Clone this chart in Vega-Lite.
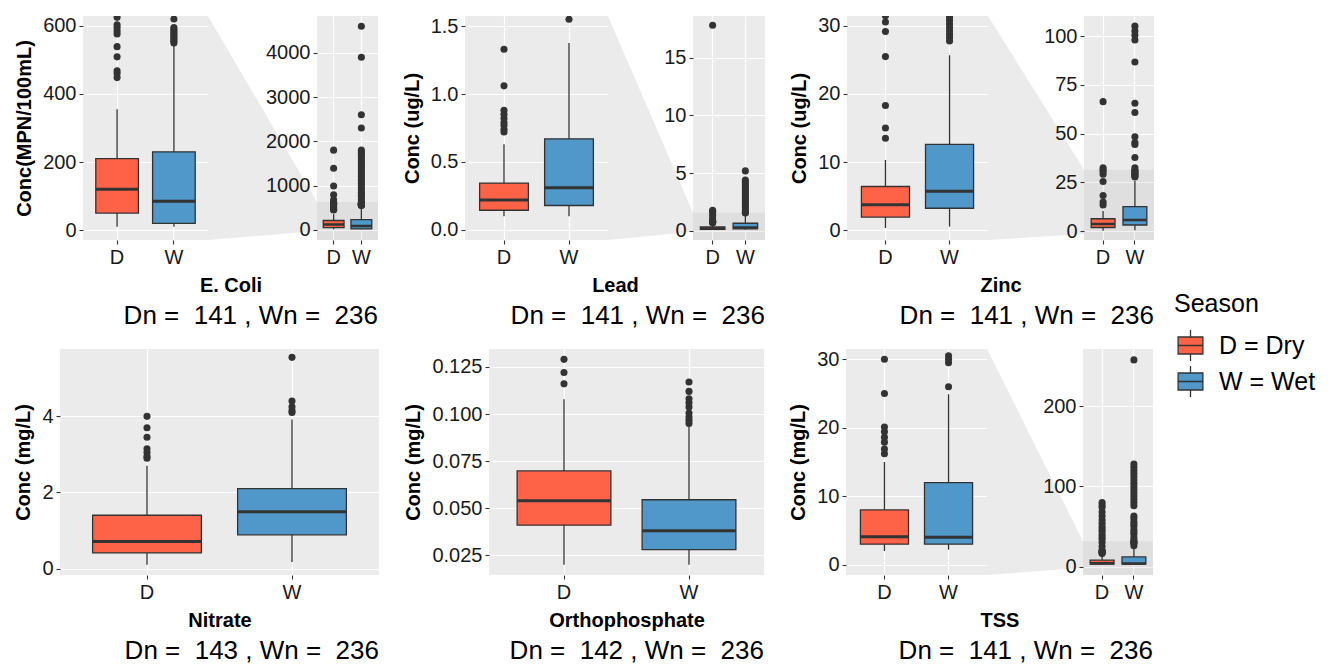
{
"$schema":"https://vega.github.io/schema/vega-lite/v6.json",
"padding":{"left":13,"top":15,"right":5,"bottom":0},
"datasets":{
"box":[
{"p":"ecoli","s":"D","lo":10,"q1":50,"med":120,"q3":210,"hi":355},
{"p":"ecoli","s":"W","lo":10,"q1":20,"med":85,"q3":230,"hi":545},
{"p":"lead","s":"D","lo":0.10,"q1":0.145,"med":0.22,"q3":0.345,"hi":0.63},
{"p":"lead","s":"W","lo":0.10,"q1":0.18,"med":0.31,"q3":0.67,"hi":1.375},
{"p":"zinc","s":"D","lo":0.3,"q1":1.9,"med":3.7,"q3":6.4,"hi":10.3},
{"p":"zinc","s":"W","lo":0.5,"q1":3.2,"med":5.7,"q3":12.6,"hi":25.7},
{"p":"nitrate","s":"D","lo":0.1,"q1":0.41,"med":0.71,"q3":1.40,"hi":2.70},
{"p":"nitrate","s":"W","lo":0.17,"q1":0.885,"med":1.49,"q3":2.10,"hi":3.92},
{"p":"ortho","s":"D","lo":0.020,"q1":0.041,"med":0.054,"q3":0.0698,"hi":0.1078},
{"p":"ortho","s":"W","lo":0.020,"q1":0.028,"med":0.038,"q3":0.0545,"hi":0.094},
{"p":"tss","s":"D","lo":2,"q1":3,"med":4.1,"q3":8,"hi":15},
{"p":"tss","s":"W","lo":2.2,"q1":3,"med":4,"q3":12,"hi":24.9}
],
"out":[
{"p":"ecoli","s":"D","v":448},{"p":"ecoli","s":"D","v":460},{"p":"ecoli","s":"D","v":468},{"p":"ecoli","s":"D","v":509},{"p":"ecoli","s":"D","v":539},{"p":"ecoli","s":"D","v":576},{"p":"ecoli","s":"D","v":585},{"p":"ecoli","s":"D","v":595},{"p":"ecoli","s":"D","v":603},{"p":"ecoli","s":"D","v":625},{"p":"ecoli","s":"D","v":680},{"p":"ecoli","s":"D","v":790},{"p":"ecoli","s":"D","v":990},{"p":"ecoli","s":"D","v":1390},{"p":"ecoli","s":"D","v":1800},
{"p":"ecoli","s":"W","v":550},{"p":"ecoli","s":"W","v":555},{"p":"ecoli","s":"W","v":560},{"p":"ecoli","s":"W","v":565},{"p":"ecoli","s":"W","v":570},{"p":"ecoli","s":"W","v":575},{"p":"ecoli","s":"W","v":580},{"p":"ecoli","s":"W","v":585},{"p":"ecoli","s":"W","v":590},{"p":"ecoli","s":"W","v":595},{"p":"ecoli","s":"W","v":620},{"p":"ecoli","s":"W","v":650},{"p":"ecoli","s":"W","v":700},{"p":"ecoli","s":"W","v":760},{"p":"ecoli","s":"W","v":800},{"p":"ecoli","s":"W","v":850},{"p":"ecoli","s":"W","v":900},{"p":"ecoli","s":"W","v":950},{"p":"ecoli","s":"W","v":1000},{"p":"ecoli","s":"W","v":1050},{"p":"ecoli","s":"W","v":1100},{"p":"ecoli","s":"W","v":1150},{"p":"ecoli","s":"W","v":1200},{"p":"ecoli","s":"W","v":1250},{"p":"ecoli","s":"W","v":1300},{"p":"ecoli","s":"W","v":1350},{"p":"ecoli","s":"W","v":1400},{"p":"ecoli","s":"W","v":1450},{"p":"ecoli","s":"W","v":1500},{"p":"ecoli","s":"W","v":1550},{"p":"ecoli","s":"W","v":1600},{"p":"ecoli","s":"W","v":1650},{"p":"ecoli","s":"W","v":1700},{"p":"ecoli","s":"W","v":1750},{"p":"ecoli","s":"W","v":1800},{"p":"ecoli","s":"W","v":2300},{"p":"ecoli","s":"W","v":2600},{"p":"ecoli","s":"W","v":3900},{"p":"ecoli","s":"W","v":4600},
{"p":"lead","s":"D","v":0.72},{"p":"lead","s":"D","v":0.74},{"p":"lead","s":"D","v":0.77},{"p":"lead","s":"D","v":0.79},{"p":"lead","s":"D","v":0.82},{"p":"lead","s":"D","v":0.85},{"p":"lead","s":"D","v":0.88},{"p":"lead","s":"D","v":1.06},{"p":"lead","s":"D","v":1.33},{"p":"lead","s":"D","v":1.6},{"p":"lead","s":"D","v":1.7},{"p":"lead","s":"D","v":1.8},{"p":"lead","s":"D","v":17.8},
{"p":"lead","s":"W","v":1.55},{"p":"lead","s":"W","v":1.6},{"p":"lead","s":"W","v":1.8},{"p":"lead","s":"W","v":2.0},{"p":"lead","s":"W","v":2.2},{"p":"lead","s":"W","v":2.4},{"p":"lead","s":"W","v":2.6},{"p":"lead","s":"W","v":2.8},{"p":"lead","s":"W","v":3.0},{"p":"lead","s":"W","v":3.2},{"p":"lead","s":"W","v":3.4},{"p":"lead","s":"W","v":3.6},{"p":"lead","s":"W","v":3.8},{"p":"lead","s":"W","v":4.0},{"p":"lead","s":"W","v":4.2},{"p":"lead","s":"W","v":4.4},{"p":"lead","s":"W","v":5.2},
{"p":"zinc","s":"D","v":13.5},{"p":"zinc","s":"D","v":15.0},{"p":"zinc","s":"D","v":18.3},{"p":"zinc","s":"D","v":25.5},{"p":"zinc","s":"D","v":29.2},{"p":"zinc","s":"D","v":30.6},{"p":"zinc","s":"D","v":31.5},{"p":"zinc","s":"D","v":32.5},{"p":"zinc","s":"D","v":66.4},
{"p":"zinc","s":"W","v":27.8},{"p":"zinc","s":"W","v":28.3},{"p":"zinc","s":"W","v":28.8},{"p":"zinc","s":"W","v":29.3},{"p":"zinc","s":"W","v":29.8},{"p":"zinc","s":"W","v":30.3},{"p":"zinc","s":"W","v":30.8},{"p":"zinc","s":"W","v":31.3},{"p":"zinc","s":"W","v":32.5},{"p":"zinc","s":"W","v":37.8},{"p":"zinc","s":"W","v":44.4},{"p":"zinc","s":"W","v":45.5},{"p":"zinc","s":"W","v":48.4},{"p":"zinc","s":"W","v":60.8},{"p":"zinc","s":"W","v":65.6},{"p":"zinc","s":"W","v":86.7},{"p":"zinc","s":"W","v":98.0},{"p":"zinc","s":"W","v":100.4},{"p":"zinc","s":"W","v":102.6},{"p":"zinc","s":"W","v":105.1},
{"p":"nitrate","s":"D","v":2.90},{"p":"nitrate","s":"D","v":2.95},{"p":"nitrate","s":"D","v":3.05},{"p":"nitrate","s":"D","v":3.15},{"p":"nitrate","s":"D","v":3.45},{"p":"nitrate","s":"D","v":3.70},{"p":"nitrate","s":"D","v":4.00},
{"p":"nitrate","s":"W","v":4.10},{"p":"nitrate","s":"W","v":4.15},{"p":"nitrate","s":"W","v":4.25},{"p":"nitrate","s":"W","v":4.40},{"p":"nitrate","s":"W","v":5.55},
{"p":"ortho","s":"D","v":0.116},{"p":"ortho","s":"D","v":0.122},{"p":"ortho","s":"D","v":0.129},
{"p":"ortho","s":"W","v":0.095},{"p":"ortho","s":"W","v":0.0966},{"p":"ortho","s":"W","v":0.0984},{"p":"ortho","s":"W","v":0.1005},{"p":"ortho","s":"W","v":0.1037},{"p":"ortho","s":"W","v":0.106},{"p":"ortho","s":"W","v":0.1081},{"p":"ortho","s":"W","v":0.112},{"p":"ortho","s":"W","v":0.117},
{"p":"tss","s":"D","v":16.2},{"p":"tss","s":"D","v":16.9},{"p":"tss","s":"D","v":17.9},{"p":"tss","s":"D","v":18.6},{"p":"tss","s":"D","v":19.4},{"p":"tss","s":"D","v":20.1},{"p":"tss","s":"D","v":25.0},{"p":"tss","s":"D","v":30.0},{"p":"tss","s":"D","v":34},{"p":"tss","s":"D","v":37},{"p":"tss","s":"D","v":40},{"p":"tss","s":"D","v":44},{"p":"tss","s":"D","v":47},{"p":"tss","s":"D","v":50},{"p":"tss","s":"D","v":54},{"p":"tss","s":"D","v":58},{"p":"tss","s":"D","v":63},{"p":"tss","s":"D","v":68},{"p":"tss","s":"D","v":74},{"p":"tss","s":"D","v":77},{"p":"tss","s":"D","v":80},
{"p":"tss","s":"W","v":26},{"p":"tss","s":"W","v":29.5},{"p":"tss","s":"W","v":30},{"p":"tss","s":"W","v":30.5},{"p":"tss","s":"W","v":33},{"p":"tss","s":"W","v":36},{"p":"tss","s":"W","v":40},{"p":"tss","s":"W","v":43},{"p":"tss","s":"W","v":46},{"p":"tss","s":"W","v":50},{"p":"tss","s":"W","v":53},{"p":"tss","s":"W","v":56},{"p":"tss","s":"W","v":60},{"p":"tss","s":"W","v":63},{"p":"tss","s":"W","v":76},{"p":"tss","s":"W","v":80},{"p":"tss","s":"W","v":84},{"p":"tss","s":"W","v":88},{"p":"tss","s":"W","v":92},{"p":"tss","s":"W","v":96},{"p":"tss","s":"W","v":100},{"p":"tss","s":"W","v":104},{"p":"tss","s":"W","v":108},{"p":"tss","s":"W","v":112},{"p":"tss","s":"W","v":116},{"p":"tss","s":"W","v":120},{"p":"tss","s":"W","v":124},{"p":"tss","s":"W","v":128},{"p":"tss","s":"W","v":258}
],
"zb":[
{"p":"ecoli","lo":-230,"hi":629},
{"p":"lead","lo":-0.78,"hi":1.574},
{"p":"zinc","lo":-4.5,"hi":31.47},
{"p":"tss","lo":-10.5,"hi":31.5}
],
"conn":[
{"p":"ecoli","x":0,"lo":-230,"hi":4830},{"p":"ecoli","x":1,"lo":-29,"hi":629},
{"p":"lead","x":0,"lo":-0.78,"hi":18.6},{"p":"lead","x":1,"lo":-0.074,"hi":1.574},
{"p":"zinc","x":0,"lo":-4.5,"hi":110.3},{"p":"zinc","x":1,"lo":-1.47,"hi":31.47},
{"p":"tss","x":0,"lo":-10.5,"hi":271.6},{"p":"tss","x":1,"lo":-1.5,"hi":31.5}
],
"none":[]
},
"spacing":20,
"vconcat":[
{"hconcat":[
 {"hconcat":[
  {"width":23,"height":224,"data":{"name":"none"},"mark":"point","encoding":{}},
  {"width":125,"height":224,"view":{"fill":"#EBEBEB","stroke":null},"resolve":{"axis":{"y":"independent"}},
   "layer":[
    {"data":{"name":"box"},"transform":[{"filter":"datum.p == 'ecoli'"}],"mark":{"type":"rule","color":"#333333","strokeWidth":1.3},
     "encoding":{"x":{"field":"s","type":"nominal","scale":{"domain":["D","W"],"paddingInner":0.25,"paddingOuter":0.225},"axis":{"title":"E. Coli","titleX":147.5}},
      "y":{"field":"lo","type":"quantitative","scale":{"domain":[-29,629],"nice":false,"zero":false},"axis":{"values":[0,200,400,600],"title":"Conc(MPN/100mL)"}},"y2":{"field":"hi"}}},
    {"data":{"name":"box"},"transform":[{"filter":"datum.p == 'ecoli'"}],"mark":{"type":"bar","stroke":"#333333","strokeWidth":1.3},
     "encoding":{"x":{"field":"s","type":"nominal"},"y":{"field":"q1","type":"quantitative","axis":{"orient":"left","values":[100,300,500],"gridWidth":0.6,"labels":false,"ticks":false,"title":null}},"y2":{"field":"q3"},
      "color":{"field":"s","type":"nominal","scale":{"domain":["D","W"],"range":["#FF6347","#5097CA"]},"title":"Season","legend":{"labelExpr":"datum.label == 'D' ? 'D = Dry' : 'W = Wet'"}}}},
    {"data":{"name":"box"},"transform":[{"filter":"datum.p == 'ecoli'"}],"mark":{"type":"bar","fill":"transparent","stroke":"#333333","strokeWidth":3},
     "encoding":{"x":{"field":"s","type":"nominal"},"y":{"field":"med","type":"quantitative","axis":null},"y2":{"field":"med"}}},
    {"data":{"name":"out"},"transform":[{"filter":"datum.p == 'ecoli'"}],"mark":{"type":"point","filled":true,"color":"#333333","size":50,"opacity":1,"clip":true},
     "encoding":{"x":{"field":"s","type":"nominal"},"y":{"field":"v","type":"quantitative","axis":null}}}
   ]},
  {"width":109,"height":224,"data":{"name":"conn"},"transform":[{"filter":"datum.p == 'ecoli'"}],"mark":{"type":"area","color":"#EBEBEB","opacity":1},
   "encoding":{"x":{"field":"x","type":"quantitative","axis":null,"scale":{"domain":[0,1],"nice":false,"zero":false}},"y":{"field":"lo","type":"quantitative","axis":null,"scale":{"domain":[-230,4830],"nice":false,"zero":false}},"y2":{"field":"hi"}}},
  {"width":61,"height":224,"view":{"fill":"#EBEBEB","stroke":null},"resolve":{"axis":{"y":"independent"}},
   "layer":[
    {"data":{"name":"zb"},"transform":[{"filter":"datum.p == 'ecoli'"}],"mark":{"type":"rect","color":"#000000","opacity":0.05},
     "encoding":{"y":{"field":"lo","type":"quantitative","scale":{"domain":[-230,4830],"nice":false,"zero":false},"axis":{"values":[0,1000,2000,3000,4000],"format":"d","title":null}},"y2":{"field":"hi"}}},
    {"data":{"name":"box"},"transform":[{"filter":"datum.p == 'ecoli'"}],"mark":{"type":"rule","color":"#333333","strokeWidth":1.3},
     "encoding":{"x":{"field":"s","type":"nominal","scale":{"domain":["D","W"],"paddingInner":0.25,"paddingOuter":0.225},"axis":{"title":null}},
      "y":{"field":"lo","type":"quantitative","axis":{"orient":"left","values":[500,1500,2500,3500,4500],"gridWidth":0.6,"labels":false,"ticks":false,"title":null}},"y2":{"field":"hi"}}},
    {"data":{"name":"box"},"transform":[{"filter":"datum.p == 'ecoli'"}],"mark":{"type":"bar","stroke":"#333333","strokeWidth":1.3},
     "encoding":{"x":{"field":"s","type":"nominal"},"y":{"field":"q1","type":"quantitative","axis":null},"y2":{"field":"q3"},
      "color":{"field":"s","type":"nominal","scale":{"domain":["D","W"],"range":["#FF6347","#5097CA"]},"title":"Season","legend":{"labelExpr":"datum.label == 'D' ? 'D = Dry' : 'W = Wet'"}}}},
    {"data":{"name":"box"},"transform":[{"filter":"datum.p == 'ecoli'"}],"mark":{"type":"bar","fill":"transparent","stroke":"#333333","strokeWidth":2.5},
     "encoding":{"x":{"field":"s","type":"nominal"},"y":{"field":"med","type":"quantitative","axis":null},"y2":{"field":"med"}}},
    {"data":{"name":"out"},"transform":[{"filter":"datum.p == 'ecoli'"}],"mark":{"type":"point","filled":true,"color":"#333333","size":50,"opacity":1,"clip":true},
     "encoding":{"x":{"field":"s","type":"nominal"},"y":{"field":"v","type":"quantitative","axis":null}}}
   ]}
 ],"spacing":0,"bounds":"flush","title":{"text":"Dn =\u00a0 141 , Wn =\u00a0 236"}},
 {"hconcat":[
  {"width":143,"height":224,"view":{"fill":"#EBEBEB","stroke":null},"resolve":{"axis":{"y":"independent"}},
   "layer":[
    {"data":{"name":"box"},"transform":[{"filter":"datum.p == 'lead'"}],"mark":{"type":"rule","color":"#333333","strokeWidth":1.3},
     "encoding":{"x":{"field":"s","type":"nominal","scale":{"domain":["D","W"],"paddingInner":0.25,"paddingOuter":0.225},"axis":{"title":"Lead","titleX":150}},
      "y":{"field":"lo","type":"quantitative","scale":{"domain":[-0.074,1.574],"nice":false,"zero":false},"axis":{"values":[0,0.5,1,1.5],"format":".1f","title":"Conc (ug/L)"}},"y2":{"field":"hi"}}},
    {"data":{"name":"box"},"transform":[{"filter":"datum.p == 'lead'"}],"mark":{"type":"bar","stroke":"#333333","strokeWidth":1.3},
     "encoding":{"x":{"field":"s","type":"nominal"},"y":{"field":"q1","type":"quantitative","axis":{"orient":"left","values":[0.25,0.75,1.25],"gridWidth":0.6,"labels":false,"ticks":false,"title":null}},"y2":{"field":"q3"},
      "color":{"field":"s","type":"nominal","scale":{"domain":["D","W"],"range":["#FF6347","#5097CA"]},"title":"Season","legend":{"labelExpr":"datum.label == 'D' ? 'D = Dry' : 'W = Wet'"}}}},
    {"data":{"name":"box"},"transform":[{"filter":"datum.p == 'lead'"}],"mark":{"type":"bar","fill":"transparent","stroke":"#333333","strokeWidth":3},
     "encoding":{"x":{"field":"s","type":"nominal"},"y":{"field":"med","type":"quantitative","axis":null},"y2":{"field":"med"}}},
    {"data":{"name":"out"},"transform":[{"filter":"datum.p == 'lead'"}],"mark":{"type":"point","filled":true,"color":"#333333","size":50,"opacity":1,"clip":true},
     "encoding":{"x":{"field":"s","type":"nominal"},"y":{"field":"v","type":"quantitative","axis":null}}}
   ]},
  {"width":85,"height":224,"data":{"name":"conn"},"transform":[{"filter":"datum.p == 'lead'"}],"mark":{"type":"area","color":"#EBEBEB","opacity":1},
   "encoding":{"x":{"field":"x","type":"quantitative","axis":null,"scale":{"domain":[0,1],"nice":false,"zero":false}},"y":{"field":"lo","type":"quantitative","axis":null,"scale":{"domain":[-0.78,18.6],"nice":false,"zero":false}},"y2":{"field":"hi"}}},
  {"width":72,"height":224,"view":{"fill":"#EBEBEB","stroke":null},"resolve":{"axis":{"y":"independent"}},
   "layer":[
    {"data":{"name":"zb"},"transform":[{"filter":"datum.p == 'lead'"}],"mark":{"type":"rect","color":"#000000","opacity":0.05},
     "encoding":{"y":{"field":"lo","type":"quantitative","scale":{"domain":[-0.78,18.6],"nice":false,"zero":false},"axis":{"values":[0,5,10,15],"title":null}},"y2":{"field":"hi"}}},
    {"data":{"name":"box"},"transform":[{"filter":"datum.p == 'lead'"}],"mark":{"type":"rule","color":"#333333","strokeWidth":1.3},
     "encoding":{"x":{"field":"s","type":"nominal","scale":{"domain":["D","W"],"paddingInner":0.25,"paddingOuter":0.225},"axis":{"title":null}},
      "y":{"field":"lo","type":"quantitative","axis":{"orient":"left","values":[2.5,7.5,12.5,17.5],"gridWidth":0.6,"labels":false,"ticks":false,"title":null}},"y2":{"field":"hi"}}},
    {"data":{"name":"box"},"transform":[{"filter":"datum.p == 'lead'"}],"mark":{"type":"bar","stroke":"#333333","strokeWidth":1.3},
     "encoding":{"x":{"field":"s","type":"nominal"},"y":{"field":"q1","type":"quantitative","axis":null},"y2":{"field":"q3"},
      "color":{"field":"s","type":"nominal","scale":{"domain":["D","W"],"range":["#FF6347","#5097CA"]},"title":"Season","legend":{"labelExpr":"datum.label == 'D' ? 'D = Dry' : 'W = Wet'"}}}},
    {"data":{"name":"box"},"transform":[{"filter":"datum.p == 'lead'"}],"mark":{"type":"bar","fill":"transparent","stroke":"#333333","strokeWidth":2.5},
     "encoding":{"x":{"field":"s","type":"nominal"},"y":{"field":"med","type":"quantitative","axis":null},"y2":{"field":"med"}}},
    {"data":{"name":"out"},"transform":[{"filter":"datum.p == 'lead'"}],"mark":{"type":"point","filled":true,"color":"#333333","size":50,"opacity":1,"clip":true},
     "encoding":{"x":{"field":"s","type":"nominal"},"y":{"field":"v","type":"quantitative","axis":null}}}
   ]}
 ],"spacing":0,"bounds":"flush","title":{"text":"Dn =\u00a0 141 , Wn =\u00a0 236"}},
 {"hconcat":[
  {"width":141,"height":224,"view":{"fill":"#EBEBEB","stroke":null},"resolve":{"axis":{"y":"independent"}},
   "layer":[
    {"data":{"name":"box"},"transform":[{"filter":"datum.p == 'zinc'"}],"mark":{"type":"rule","color":"#333333","strokeWidth":1.3},
     "encoding":{"x":{"field":"s","type":"nominal","scale":{"domain":["D","W"],"paddingInner":0.25,"paddingOuter":0.225},"axis":{"title":"Zinc","titleX":153.5}},
      "y":{"field":"lo","type":"quantitative","scale":{"domain":[-1.47,31.47],"nice":false,"zero":false},"axis":{"values":[0,10,20,30],"title":"Conc (ug/L)"}},"y2":{"field":"hi"}}},
    {"data":{"name":"box"},"transform":[{"filter":"datum.p == 'zinc'"}],"mark":{"type":"bar","stroke":"#333333","strokeWidth":1.3},
     "encoding":{"x":{"field":"s","type":"nominal"},"y":{"field":"q1","type":"quantitative","axis":{"orient":"left","values":[5,15,25],"gridWidth":0.6,"labels":false,"ticks":false,"title":null}},"y2":{"field":"q3"},
      "color":{"field":"s","type":"nominal","scale":{"domain":["D","W"],"range":["#FF6347","#5097CA"]},"title":"Season","legend":{"labelExpr":"datum.label == 'D' ? 'D = Dry' : 'W = Wet'"}}}},
    {"data":{"name":"box"},"transform":[{"filter":"datum.p == 'zinc'"}],"mark":{"type":"bar","fill":"transparent","stroke":"#333333","strokeWidth":3},
     "encoding":{"x":{"field":"s","type":"nominal"},"y":{"field":"med","type":"quantitative","axis":null},"y2":{"field":"med"}}},
    {"data":{"name":"out"},"transform":[{"filter":"datum.p == 'zinc'"}],"mark":{"type":"point","filled":true,"color":"#333333","size":50,"opacity":1,"clip":true},
     "encoding":{"x":{"field":"s","type":"nominal"},"y":{"field":"v","type":"quantitative","axis":null}}}
   ]},
  {"width":96,"height":224,"data":{"name":"conn"},"transform":[{"filter":"datum.p == 'zinc'"}],"mark":{"type":"area","color":"#EBEBEB","opacity":1},
   "encoding":{"x":{"field":"x","type":"quantitative","axis":null,"scale":{"domain":[0,1],"nice":false,"zero":false}},"y":{"field":"lo","type":"quantitative","axis":null,"scale":{"domain":[-4.5,110.3],"nice":false,"zero":false}},"y2":{"field":"hi"}}},
  {"width":70,"height":224,"view":{"fill":"#EBEBEB","stroke":null},"resolve":{"axis":{"y":"independent"}},
   "layer":[
    {"data":{"name":"zb"},"transform":[{"filter":"datum.p == 'zinc'"}],"mark":{"type":"rect","color":"#000000","opacity":0.05},
     "encoding":{"y":{"field":"lo","type":"quantitative","scale":{"domain":[-4.5,110.3],"nice":false,"zero":false},"axis":{"values":[0,25,50,75,100],"title":null}},"y2":{"field":"hi"}}},
    {"data":{"name":"box"},"transform":[{"filter":"datum.p == 'zinc'"}],"mark":{"type":"rule","color":"#333333","strokeWidth":1.3},
     "encoding":{"x":{"field":"s","type":"nominal","scale":{"domain":["D","W"],"paddingInner":0.25,"paddingOuter":0.225},"axis":{"title":null}},
      "y":{"field":"lo","type":"quantitative","axis":{"orient":"left","values":[12.5,37.5,62.5,87.5],"gridWidth":0.6,"labels":false,"ticks":false,"title":null}},"y2":{"field":"hi"}}},
    {"data":{"name":"box"},"transform":[{"filter":"datum.p == 'zinc'"}],"mark":{"type":"bar","stroke":"#333333","strokeWidth":1.3},
     "encoding":{"x":{"field":"s","type":"nominal"},"y":{"field":"q1","type":"quantitative","axis":null},"y2":{"field":"q3"},
      "color":{"field":"s","type":"nominal","scale":{"domain":["D","W"],"range":["#FF6347","#5097CA"]},"title":"Season","legend":{"labelExpr":"datum.label == 'D' ? 'D = Dry' : 'W = Wet'"}}}},
    {"data":{"name":"box"},"transform":[{"filter":"datum.p == 'zinc'"}],"mark":{"type":"bar","fill":"transparent","stroke":"#333333","strokeWidth":2.5},
     "encoding":{"x":{"field":"s","type":"nominal"},"y":{"field":"med","type":"quantitative","axis":null},"y2":{"field":"med"}}},
    {"data":{"name":"out"},"transform":[{"filter":"datum.p == 'zinc'"}],"mark":{"type":"point","filled":true,"color":"#333333","size":50,"opacity":1,"clip":true},
     "encoding":{"x":{"field":"s","type":"nominal"},"y":{"field":"v","type":"quantitative","axis":null}}}
   ]}
 ],"spacing":0,"bounds":"flush","title":{"text":"Dn =\u00a0 141 , Wn =\u00a0 236"}}
],"spacing":24},
{"hconcat":[
  {"width":319,"height":226,"view":{"fill":"#EBEBEB","stroke":null},"resolve":{"axis":{"y":"independent"}},"title":{"text":"Dn =\u00a0 143 , Wn =\u00a0 236"},
   "layer":[
    {"data":{"name":"box"},"transform":[{"filter":"datum.p == 'nitrate'"}],"mark":{"type":"rule","color":"#333333","strokeWidth":1.3},
     "encoding":{"x":{"field":"s","type":"nominal","scale":{"domain":["D","W"],"paddingInner":0.25,"paddingOuter":0.225},"axis":{"title":"Nitrate"}},
      "y":{"field":"lo","type":"quantitative","scale":{"domain":[-0.17,5.77],"nice":false,"zero":false},"axis":{"values":[0,2,4],"title":"Conc (mg/L)"}},"y2":{"field":"hi"}}},
    {"data":{"name":"box"},"transform":[{"filter":"datum.p == 'nitrate'"}],"mark":{"type":"bar","stroke":"#333333","strokeWidth":1.3},
     "encoding":{"x":{"field":"s","type":"nominal"},"y":{"field":"q1","type":"quantitative","axis":{"orient":"left","values":[1,3,5],"gridWidth":0.6,"labels":false,"ticks":false,"title":null}},"y2":{"field":"q3"},
      "color":{"field":"s","type":"nominal","scale":{"domain":["D","W"],"range":["#FF6347","#5097CA"]},"title":"Season","legend":{"labelExpr":"datum.label == 'D' ? 'D = Dry' : 'W = Wet'"}}}},
    {"data":{"name":"box"},"transform":[{"filter":"datum.p == 'nitrate'"}],"mark":{"type":"bar","fill":"transparent","stroke":"#333333","strokeWidth":3},
     "encoding":{"x":{"field":"s","type":"nominal"},"y":{"field":"med","type":"quantitative","axis":null},"y2":{"field":"med"}}},
    {"data":{"name":"out"},"transform":[{"filter":"datum.p == 'nitrate'"}],"mark":{"type":"point","filled":true,"color":"#333333","size":50,"opacity":1,"clip":true},
     "encoding":{"x":{"field":"s","type":"nominal"},"y":{"field":"v","type":"quantitative","axis":null}}}
   ]},
  {"width":275,"height":226,"view":{"fill":"#EBEBEB","stroke":null},"resolve":{"axis":{"y":"independent"}},"title":{"text":"Dn =\u00a0 142 , Wn =\u00a0 236"},
   "layer":[
    {"data":{"name":"box"},"transform":[{"filter":"datum.p == 'ortho'"}],"mark":{"type":"rule","color":"#333333","strokeWidth":1.3},
     "encoding":{"x":{"field":"s","type":"nominal","scale":{"domain":["D","W"],"paddingInner":0.25,"paddingOuter":0.225},"axis":{"title":"Orthophosphate"}},
      "y":{"field":"lo","type":"quantitative","scale":{"domain":[0.01455,0.1345],"nice":false,"zero":false},"axis":{"values":[0.025,0.05,0.075,0.1,0.125],"format":".3f","title":"Conc (mg/L)"}},"y2":{"field":"hi"}}},
    {"data":{"name":"box"},"transform":[{"filter":"datum.p == 'ortho'"}],"mark":{"type":"bar","stroke":"#333333","strokeWidth":1.3},
     "encoding":{"x":{"field":"s","type":"nominal"},"y":{"field":"q1","type":"quantitative","axis":{"orient":"left","values":[0.0375,0.0625,0.0875,0.1125],"gridWidth":0.6,"labels":false,"ticks":false,"title":null}},"y2":{"field":"q3"},
      "color":{"field":"s","type":"nominal","scale":{"domain":["D","W"],"range":["#FF6347","#5097CA"]},"title":"Season","legend":{"labelExpr":"datum.label == 'D' ? 'D = Dry' : 'W = Wet'"}}}},
    {"data":{"name":"box"},"transform":[{"filter":"datum.p == 'ortho'"}],"mark":{"type":"bar","fill":"transparent","stroke":"#333333","strokeWidth":3},
     "encoding":{"x":{"field":"s","type":"nominal"},"y":{"field":"med","type":"quantitative","axis":null},"y2":{"field":"med"}}},
    {"data":{"name":"out"},"transform":[{"filter":"datum.p == 'ortho'"}],"mark":{"type":"point","filled":true,"color":"#333333","size":50,"opacity":1,"clip":true},
     "encoding":{"x":{"field":"s","type":"nominal"},"y":{"field":"v","type":"quantitative","axis":null}}}
   ]},
 {"hconcat":[
  {"width":141,"height":226,"view":{"fill":"#EBEBEB","stroke":null},"resolve":{"axis":{"y":"independent"}},
   "layer":[
    {"data":{"name":"box"},"transform":[{"filter":"datum.p == 'tss'"}],"mark":{"type":"rule","color":"#333333","strokeWidth":1.3},
     "encoding":{"x":{"field":"s","type":"nominal","scale":{"domain":["D","W"],"paddingInner":0.25,"paddingOuter":0.225},"axis":{"title":"TSS","titleX":153.5}},
      "y":{"field":"lo","type":"quantitative","scale":{"domain":[-1.5,31.5],"nice":false,"zero":false},"axis":{"values":[0,10,20,30],"title":"Conc (mg/L)"}},"y2":{"field":"hi"}}},
    {"data":{"name":"box"},"transform":[{"filter":"datum.p == 'tss'"}],"mark":{"type":"bar","stroke":"#333333","strokeWidth":1.3},
     "encoding":{"x":{"field":"s","type":"nominal"},"y":{"field":"q1","type":"quantitative","axis":{"orient":"left","values":[5,15,25],"gridWidth":0.6,"labels":false,"ticks":false,"title":null}},"y2":{"field":"q3"},
      "color":{"field":"s","type":"nominal","scale":{"domain":["D","W"],"range":["#FF6347","#5097CA"]},"title":"Season","legend":{"labelExpr":"datum.label == 'D' ? 'D = Dry' : 'W = Wet'"}}}},
    {"data":{"name":"box"},"transform":[{"filter":"datum.p == 'tss'"}],"mark":{"type":"bar","fill":"transparent","stroke":"#333333","strokeWidth":3},
     "encoding":{"x":{"field":"s","type":"nominal"},"y":{"field":"med","type":"quantitative","axis":null},"y2":{"field":"med"}}},
    {"data":{"name":"out"},"transform":[{"filter":"datum.p == 'tss'"}],"mark":{"type":"point","filled":true,"color":"#333333","size":50,"opacity":1,"clip":true},
     "encoding":{"x":{"field":"s","type":"nominal"},"y":{"field":"v","type":"quantitative","axis":null}}}
   ]},
  {"width":96,"height":226,"data":{"name":"conn"},"transform":[{"filter":"datum.p == 'tss'"}],"mark":{"type":"area","color":"#EBEBEB","opacity":1},
   "encoding":{"x":{"field":"x","type":"quantitative","axis":null,"scale":{"domain":[0,1],"nice":false,"zero":false}},"y":{"field":"lo","type":"quantitative","axis":null,"scale":{"domain":[-10.5,271.6],"nice":false,"zero":false}},"y2":{"field":"hi"}}},
  {"width":70,"height":226,"view":{"fill":"#EBEBEB","stroke":null},"resolve":{"axis":{"y":"independent"}},
   "layer":[
    {"data":{"name":"zb"},"transform":[{"filter":"datum.p == 'tss'"}],"mark":{"type":"rect","color":"#000000","opacity":0.05},
     "encoding":{"y":{"field":"lo","type":"quantitative","scale":{"domain":[-10.5,271.6],"nice":false,"zero":false},"axis":{"values":[0,100,200],"title":null}},"y2":{"field":"hi"}}},
    {"data":{"name":"box"},"transform":[{"filter":"datum.p == 'tss'"}],"mark":{"type":"rule","color":"#333333","strokeWidth":1.3},
     "encoding":{"x":{"field":"s","type":"nominal","scale":{"domain":["D","W"],"paddingInner":0.25,"paddingOuter":0.225},"axis":{"title":null}},
      "y":{"field":"lo","type":"quantitative","axis":{"orient":"left","values":[50,150,250],"gridWidth":0.6,"labels":false,"ticks":false,"title":null}},"y2":{"field":"hi"}}},
    {"data":{"name":"box"},"transform":[{"filter":"datum.p == 'tss'"}],"mark":{"type":"bar","stroke":"#333333","strokeWidth":1.3},
     "encoding":{"x":{"field":"s","type":"nominal"},"y":{"field":"q1","type":"quantitative","axis":null},"y2":{"field":"q3"},
      "color":{"field":"s","type":"nominal","scale":{"domain":["D","W"],"range":["#FF6347","#5097CA"]},"title":"Season","legend":{"labelExpr":"datum.label == 'D' ? 'D = Dry' : 'W = Wet'"}}}},
    {"data":{"name":"box"},"transform":[{"filter":"datum.p == 'tss'"}],"mark":{"type":"bar","fill":"transparent","stroke":"#333333","strokeWidth":2.5},
     "encoding":{"x":{"field":"s","type":"nominal"},"y":{"field":"med","type":"quantitative","axis":null},"y2":{"field":"med"}}},
    {"data":{"name":"out"},"transform":[{"filter":"datum.p == 'tss'"}],"mark":{"type":"point","filled":true,"color":"#333333","size":50,"opacity":1,"clip":true},
     "encoding":{"x":{"field":"s","type":"nominal"},"y":{"field":"v","type":"quantitative","axis":null}}}
   ]}
 ],"spacing":0,"bounds":"flush","title":{"text":"Dn =\u00a0 141 , Wn =\u00a0 236"}}
],"spacing":24}
],
"config":{
 "font":"Liberation Sans",
 "view":{"stroke":null},
 "axis":{"domain":false,"grid":true,"gridColor":"#FFFFFF","gridWidth":1.2,"tickColor":"#333333","tickSize":4,"tickWidth":1.1,"labelFont":"Liberation Sans","labelFontSize":20,"labelColor":"#1A1A1A","labelPadding":3,"titleFont":"Liberation Sans","titleFontSize":20,"titleFontWeight":"bold","titleColor":"#000000","titlePadding":8},
 "axisX":{"labelAngle":0,"bandPosition":0.5},
 "title":{"font":"Liberation Sans","fontSize":26,"fontWeight":"normal","color":"#000000","orient":"bottom","anchor":"end","offset":8},
 "legend":{"orient":"none","legendX":1114,"legendY":276,"titleFont":"Liberation Sans","titleFontSize":25,"titleFontWeight":"normal","titleColor":"#000000","labelFont":"Liberation Sans","labelFontSize":25,"labelColor":"#000000","symbolType":"M-0.8,-0.55H0.8V0.55H-0.8Z M-0.8,0H0.8 M0,-0.55V-1 M0,0.55V1","symbolSize":960,"symbolStrokeColor":"#333333","symbolStrokeWidth":1.3,"rowPadding":-1,"labelOffset":12,"titlePadding":12}
}
}
